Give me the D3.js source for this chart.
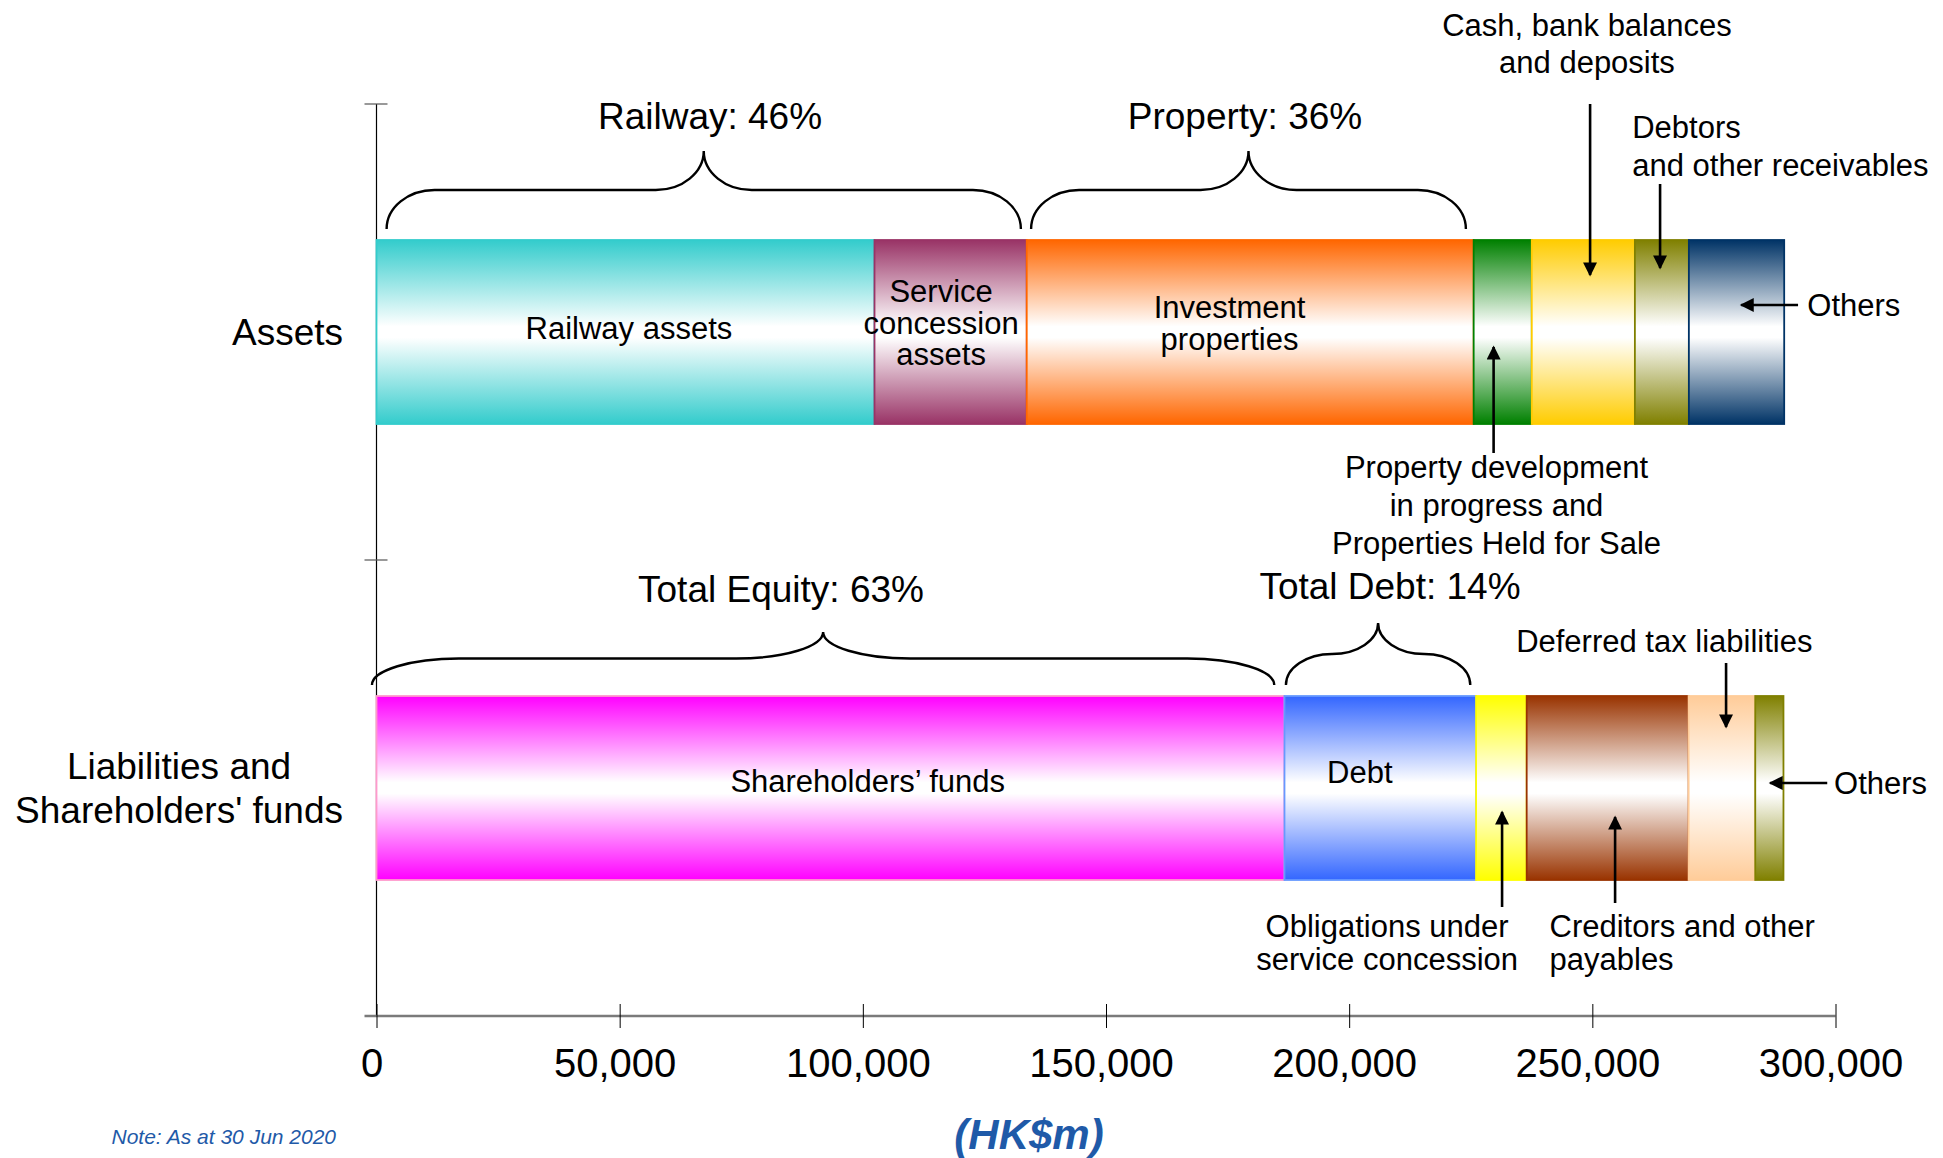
<!DOCTYPE html>
<html>
<head>
<meta charset="utf-8">
<script src="https://cdn.jsdelivr.net/npm/d3@7"></script>
<style>
  html, body { margin: 0; padding: 0; background: #ffffff; }
  svg { display: block; font-family: "Liberation Sans", Arial, Helvetica, sans-serif; }
</style>
</head>
<body>
<svg id="chart" width="1943" height="1158"></svg>
<script>
// ---- Data (HK$m, as at 30 Jun 2020) ----
const rowNames = ["Assets", "Liabilities and\nShareholders' funds"];

const assetItems = [
  "Railway assets",
  "Service concession assets",
  "Investment properties",
  "Property development in progress and Properties Held for Sale",
  "Cash, bank balances and deposits",
  "Debtors and other receivables",
  "Others"
];
const assetValues = [102400, 31300, 91900, 11950, 21200, 11100, 19600];
const assetColors = ["#33CCCC", "#993366", "#FF6600", "#008000", "#FFCC00", "#808000", "#003366"];
const assetEdges  = ["#33CCCC", "#993366", "#FF6600", "#008000", "#FFCC00", "#808000", "#003366"];

const liabilityItems = [
  "Shareholders’ funds",
  "Debt",
  "Obligations under service concession",
  "Creditors and other payables",
  "Deferred tax liabilities",
  "Others"
];
const liabilityValues = [186700, 39400, 10400, 33300, 13700, 5800];
const liabilityColors = ["#FF00FF", "#3366FF", "#FFFF00", "#993300", "#FFCC99", "#808000"];
const liabilityEdges  = ["#FF99CC", "#6699FF", "#FFFF00", "#993300", "#FFCC99", "#808000"];

const xTickValues = [0, 50000, 100000, 150000, 200000, 250000, 300000];

const groupLabels = ["Railway: 46%", "Property: 36%", "Total Equity: 63%", "Total Debt: 14%"];

// ---- Layout ----
const svg = d3.select("#chart");
const FONT_IN = 31;

const x = d3.scaleLinear().domain([0, 300000]).range([376.5, 1835.5]);
const y = d3.scaleBand().domain(rowNames).range([104, 1016]).padding(0);
const barH = y.bandwidth() * 0.4035;
const rowMid = r => y(rowNames[r]) + y.bandwidth() / 2;

const rows = [
  { items: assetItems, values: assetValues, colors: assetColors, edges: assetEdges },
  { items: liabilityItems, values: liabilityValues, colors: liabilityColors, edges: liabilityEdges }
];

// ---- Gradients: colour at the edges fading to white in the middle ----
const defs = svg.append("defs");
rows.forEach((row, r) => {
  row.colors.forEach((c, i) => {
    const g = defs.append("linearGradient")
      .attr("id", `grad-${r}-${i}`)
      .attr("x1", 0).attr("y1", 0).attr("x2", 0).attr("y2", 1);
    g.append("stop").attr("offset", "0").attr("stop-color", c);
    g.append("stop").attr("offset", "0.47").attr("stop-color", "#ffffff");
    g.append("stop").attr("offset", "0.53").attr("stop-color", "#ffffff");
    g.append("stop").attr("offset", "1").attr("stop-color", c);
  });
});
defs.append("marker")
  .attr("id", "arrowhead")
  .attr("viewBox", "0 0 10 10")
  .attr("refX", 9).attr("refY", 5)
  .attr("markerWidth", 15).attr("markerHeight", 14)
  .attr("markerUnits", "userSpaceOnUse")
  .attr("orient", "auto")
  .append("path").attr("d", "M0,0L10,5L0,10Z").attr("fill", "#000");

// ---- Axes ----
const yAxisX = x(0);
svg.append("line")
  .attr("x1", yAxisX).attr("x2", yAxisX)
  .attr("y1", y.range()[0]).attr("y2", y.range()[1])
  .attr("stroke", "#000").attr("stroke-width", 1.2);

// category separators on the vertical axis
const yTickPositions = rowNames.map(n => y(n));
svg.selectAll(".ytick").data(yTickPositions).join("line")
  .attr("class", "ytick")
  .attr("x1", yAxisX - 12).attr("x2", yAxisX + 11)
  .attr("y1", d => d).attr("y2", d => d)
  .attr("stroke", "#555").attr("stroke-width", 1.2);

const xAxisY = y.range()[1];
const xAxisG = svg.append("g")
  .attr("transform", `translate(0,${xAxisY})`)
  .call(d3.axisBottom(x).tickValues(xTickValues).tickFormat(d3.format(",")).tickSizeOuter(0));
xAxisG.select(".domain")
  .attr("d", `M${yAxisX - 12},0H${x(300000)}`)
  .attr("stroke", "#7a7a7a").attr("stroke-width", 2.6);
xAxisG.selectAll(".tick line")
  .attr("y1", -12).attr("y2", 12)
  .attr("stroke", "#000").attr("stroke-width", 1);
xAxisG.selectAll(".tick text")
  .attr("x", -5)
  .attr("y", 61).attr("dy", 0)
  .attr("font-size", 40)
  .attr("font-family", "'Liberation Sans', Arial, sans-serif")
  .attr("fill", "#000");

// ---- Row labels ----
const rowLabelRight = yAxisX - 33.5;
rowNames.forEach((name, r) => {
  const lines = name.split("\n");
  const t = svg.append("text")
    .attr("font-size", 37).attr("fill", "#000").attr("text-anchor", "middle");
  const spacing = 43.5;
  const top = rowMid(r) - (lines.length - 1) * spacing / 2 + 13;
  lines.forEach((ln, i) => t.append("tspan").attr("y", top + i * spacing).text(ln));
  const w = d3.max(t.selectAll("tspan").nodes(), n => n.getComputedTextLength());
  t.selectAll("tspan").attr("x", rowLabelRight - w / 2);
});

// ---- Stacked bars ----
rows.forEach((row, r) => {
  const ends = d3.cumsum(row.values);
  const segs = row.values.map((v, i) => ({ start: ends[i] - v, end: ends[i], i }));
  const top = rowMid(r) - barH / 2;
  svg.append("g").selectAll("rect").data(segs).join("rect")
    .attr("x", d => x(d.start))
    .attr("y", top)
    .attr("width", d => x(d.end) - x(d.start))
    .attr("height", barH)
    .attr("fill", d => `url(#grad-${r}-${d.i})`)
    .attr("stroke", d => row.edges[d.i])
    .attr("stroke-width", 1.8);
});

// ---- Labels inside the bars (anchor in HK$m, baseline offsets from bar centre) ----
const innerLabels = [
  { row: 0, at: 51900,  lines: ["Railway assets"], dy: [6.5] },
  { row: 0, at: 116100, lines: ["Service", "concession", "assets"], dy: [-30, 1.5, 33] },
  { row: 0, at: 175400, lines: ["Investment", "properties"], dy: [-14, 18] },
  { row: 1, at: 101000, lines: ["Shareholders’ funds"], dy: [3.5] },
  { row: 1, at: 202200, lines: ["Debt"], dy: [-5] }
];
innerLabels.forEach(l => {
  const t = svg.append("text").attr("font-size", FONT_IN).attr("text-anchor", "middle").attr("fill", "#000");
  l.lines.forEach((ln, i) => t.append("tspan").attr("x", x(l.at)).attr("y", rowMid(l.row) + l.dy[i]).text(ln));
});

// ---- Curly braces over groups of segments ----
function bracePath(x0, x1, yEnd, h, rx) {
  const k = 0.5523, ry = h / 2, xm = (x0 + x1) / 2, yf = yEnd - ry, yp = yEnd - h;
  const p = d3.path();
  p.moveTo(x0, yEnd);
  p.bezierCurveTo(x0, yEnd - k * ry, x0 + rx - k * rx, yf, x0 + rx, yf);
  p.lineTo(xm - rx, yf);
  p.bezierCurveTo(xm - rx + k * rx, yf, xm, yf - ry + k * ry, xm, yp);
  p.bezierCurveTo(xm, yf - ry + k * ry, xm + rx - k * rx, yf, xm + rx, yf);
  p.lineTo(x1 - rx, yf);
  p.bezierCurveTo(x1 - rx + k * rx, yf, x1, yEnd - k * ry, x1, yEnd);
  return p.toString();
}
const braces = [
  { row: 0, from: 2080,   to: 132500, h: 78, rx: 48, label: groupLabels[0], lx: 710,  ly: 129 },
  { row: 0, from: 134600, to: 224000, h: 78, rx: 48, label: groupLabels[1], lx: 1245, ly: 129 },
  { row: 1, from: -930,   to: 184600, h: 53, rx: 87, label: groupLabels[2], lx: 781,  ly: 601.5 },
  { row: 1, from: 187000, to: 224900, h: 62, rx: 46, label: groupLabels[3], lx: 1390, ly: 599 }
];
braces.forEach(b => {
  const yEnd = rowMid(b.row) - barH / 2 - 11;
  svg.append("path")
    .attr("d", bracePath(x(b.from), x(b.to), yEnd, b.h, b.rx))
    .attr("fill", "none").attr("stroke", "#000").attr("stroke-width", 2.4);
  svg.append("text").attr("x", b.lx).attr("y", b.ly)
    .attr("font-size", 37).attr("text-anchor", "middle").attr("fill", "#000")
    .text(b.label);
});

// ---- Callout texts and arrows ----
const callouts = [
  { at: 248900, anchor: "middle", lines: ["Cash, bank balances", "and deposits"], y: [36, 73] },
  { at: 258200, anchor: "start",  lines: ["Debtors", "and other receivables"], y: [138, 175.5] },
  { at: 294200, anchor: "start",  lines: ["Others"], y: [316] },
  { at: 230300, anchor: "middle", lines: ["Property development", "in progress and", "Properties Held for Sale"], y: [478, 516, 554] },
  { at: 264800, anchor: "middle", lines: ["Deferred tax liabilities"], y: [652] },
  { at: 299700, anchor: "start",  lines: ["Others"], y: [794] },
  { at: 207800, anchor: "middle", lines: ["Obligations under", "service concession"], y: [937, 969.5] },
  { at: 241200, anchor: "start",  lines: ["Creditors and other", "payables"], y: [937, 969.5] }
];
callouts.forEach(c => {
  const t = svg.append("text").attr("font-size", FONT_IN).attr("text-anchor", c.anchor).attr("fill", "#000");
  c.lines.forEach((ln, i) => t.append("tspan").attr("x", x(c.at)).attr("y", c.y[i]).text(ln));
});

const arrows = [
  { x1: 249540, y1: 104, x2: 249540, y2: 275 },
  { x1: 263930, y1: 184, x2: 263930, y2: 268 },
  { x1: 292300, y1: 305, x2: 280600, y2: 305 },
  { x1: 229700, y1: 453, x2: 229700, y2: 347 },
  { x1: 277500, y1: 663, x2: 277500, y2: 727 },
  { x1: 298300, y1: 783, x2: 286550, y2: 783 },
  { x1: 231440, y1: 907, x2: 231440, y2: 812 },
  { x1: 254680, y1: 903, x2: 254680, y2: 817 }
];
svg.append("g").selectAll("line").data(arrows).join("line")
  .attr("x1", d => x(d.x1)).attr("y1", d => d.y1)
  .attr("x2", d => x(d.x2)).attr("y2", d => d.y2)
  .attr("stroke", "#000").attr("stroke-width", 2.6)
  .attr("marker-end", "url(#arrowhead)");

// ---- Unit and footnote ----
svg.append("text")
  .attr("x", 1029).attr("y", 1149)
  .attr("text-anchor", "middle")
  .attr("font-size", 42).attr("font-weight", "bold").attr("font-style", "italic")
  .attr("fill", "#1F5AA8")
  .text("(HK$m)");
svg.append("text")
  .attr("x", 111.5).attr("y", 1143.5)
  .attr("font-size", 21).attr("font-style", "italic")
  .attr("fill", "#1F5AA8")
  .text("Note: As at 30 Jun 2020");
</script>
</body>
</html>
